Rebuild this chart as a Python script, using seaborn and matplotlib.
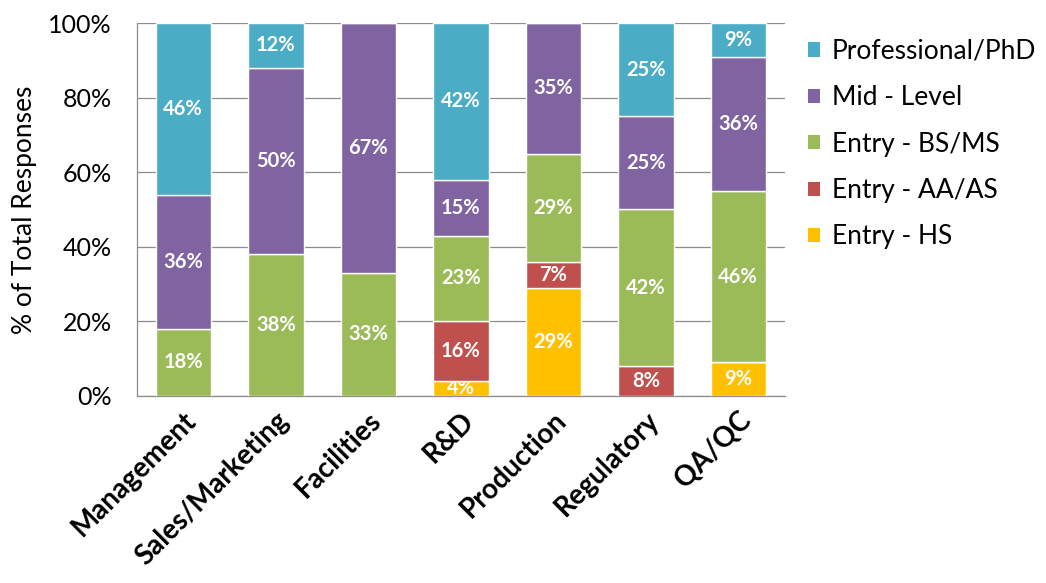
import matplotlib
matplotlib.use("Agg")
import matplotlib.pyplot as plt
import seaborn as sns
import pandas as pd
import numpy as np
from matplotlib.patches import Patch

# Job categories and share of responses (%) per education level
departments = ["Management", "Sales/Marketing", "Facilities", "R&D",
               "Production", "Regulatory", "QA/QC"]
entry_hs = [0, 0, 0, 4, 29, 0, 9]
entry_aa = [0, 0, 0, 16, 7, 8, 0]
entry_bs = [18, 38, 33, 23, 29, 42, 46]
mid_level = [36, 50, 67, 15, 35, 25, 36]
professional = [46, 12, 0, 42, 0, 25, 9]

series_names = ["Entry - HS", "Entry - AA/AS", "Entry - BS/MS",
                "Mid - Level", "Professional/PhD"]
series_values = [entry_hs, entry_aa, entry_bs, mid_level, professional]
series_colors = ["#FFC000", "#C0504D", "#9BBB59", "#8064A2", "#4BACC6"]

sns.set_style("white")
plt.rcParams["font.family"] = ["Lato", "DejaVu Sans"]
plt.rcParams["text.color"] = "black"
plt.rcParams["axes.labelcolor"] = "black"
plt.rcParams["xtick.color"] = "black"
plt.rcParams["ytick.color"] = "black"

fig = plt.figure(figsize=(10.46, 5.83), dpi=100)
ax = fig.add_axes([0.131, 0.321, 0.619, 0.6395])

bottom = np.zeros(len(departments))
for name, vals, col in zip(series_names, series_values, series_colors):
    df = pd.DataFrame({"dept": departments, "pct": vals})
    sns.barplot(data=df, x="dept", y="pct", order=departments, color=col,
                width=0.6, bottom=bottom.copy(), errorbar=None,
                edgecolor="white", linewidth=1.0, saturation=1, ax=ax,
                zorder=3)
    cont = ax.containers[-1]
    labels = [f"{v}%" if v > 0 else "" for v in vals]
    ax.bar_label(cont, labels=labels, label_type="center", color="white",
                 fontsize=14.5, fontweight="bold")
    bottom += np.array(vals)

ax.set_ylim(0, 100)
ax.set_xlim(-0.5, len(departments) - 0.5)
ax.set_yticks(np.arange(0, 101, 20))
ax.set_yticklabels([f"{t}%" for t in range(0, 101, 20)], fontsize=18)
ax.yaxis.grid(True, color="#8c8c8c", linewidth=0.9, zorder=0)
ax.set_axisbelow(True)

ax.set_xticks(range(len(departments)))
ax.set_xticklabels(departments, rotation=45, ha="right",
                   rotation_mode="anchor", fontsize=20, fontweight="bold")
ax.set_xticks(np.arange(-0.5, len(departments), 1), minor=True)
ax.tick_params(axis="x", which="major", length=0, pad=8)
ax.tick_params(axis="x", which="minor", length=8, color="#8c8c8c", width=0.9,
               direction="out")
ax.tick_params(axis="y", length=8, color="#8c8c8c", width=0.9,
               direction="out", pad=10, labelcolor="black")

ax.set_xlabel("")
ax.set_ylabel("% of Total Responses", fontsize=19, labelpad=8)

for s in ["top", "right"]:
    ax.spines[s].set_visible(False)
for s in ["left", "bottom"]:
    ax.spines[s].set_color("#8c8c8c")
    ax.spines[s].set_linewidth(0.9)

handles = [Patch(facecolor=c, edgecolor="none", label=n)
           for n, c in zip(series_names[::-1], series_colors[::-1])]
fig.legend(handles=handles, loc="upper left", bbox_to_anchor=(0.750, 0.974),
           frameon=False, fontsize=19, handlelength=0.45, handleheight=0.45,
           handletextpad=0.45, labelspacing=0.81)

fig.savefig("out.png", dpi=100)
